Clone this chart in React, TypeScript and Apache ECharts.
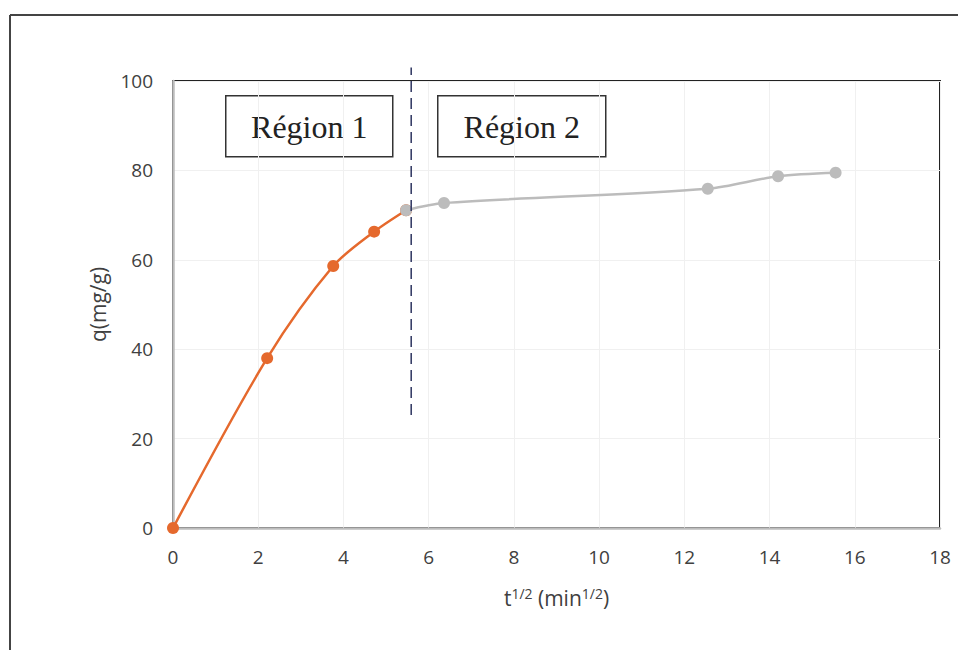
import React, { useEffect, useRef } from "react";
import * as echarts from "echarts";

const region1X = [0, 2.21, 3.76, 4.72, 5.47];
const region1Q = [0, 38.0, 58.6, 66.3, 71.1];
const region2X = [5.47, 6.36, 12.55, 14.2, 15.55];
const region2Q = [71.1, 72.7, 75.9, 78.7, 79.5];
const dividerX = [5.59, 5.59];
const dividerQ = [25.3, 103];
const regionLabels = ["Région 1", "Région 2"];
const yName = "q(mg/g)";

export default function App() {
  const ref = useRef<HTMLDivElement>(null);
  useEffect(() => {
    document.body.style.margin = "0";
    const chart = echarts.init(ref.current!, null, { renderer: "svg" });
    const tickFont = { fontFamily: "Open Sans", fontSize: 19, color: "#404040" };
    chart.setOption({
      animation: false,
      backgroundColor: "#ffffff",
      grid: {
        left: 173,
        top: 81,
        width: 767,
        height: 447,
        show: true,
        borderColor: "#222222",
        borderWidth: 2,
        backgroundColor: "transparent",
      },
      xAxis: {
        type: "value",
        min: 0,
        max: 18,
        interval: 2,
        name: "{b|t}{s|1/2}{b| (min}{s|1/2}{b|)}",
        nameLocation: "middle",
        nameGap: 56,
        nameTextStyle: {
          rich: {
            b: { fontFamily: "Open Sans", fontSize: 21, color: "#404040", lineHeight: 28 },
            s: { fontFamily: "Open Sans", fontSize: 14, color: "#404040", padding: [0, 0, 10, 0] },
          },
        },
        axisLine: { show: true, lineStyle: { color: "#BDBDBD", width: 2.5 } },
        axisTick: { show: false },
        axisLabel: { ...tickFont, margin: 19 },
        splitLine: { show: true, lineStyle: { color: "#F0F0F0", width: 1 } },
      },
      yAxis: {
        type: "value",
        min: 0,
        max: 100,
        interval: 20,
        name: yName,
        nameLocation: "middle",
        nameGap: 65,
        nameRotate: 90,
        nameTextStyle: { fontFamily: "Open Sans", fontSize: 21, color: "#404040" },
        axisLine: { show: true, lineStyle: { color: "#BDBDBD", width: 2.5 } },
        axisTick: { show: false },
        axisLabel: { ...tickFont, margin: 20 },
        splitLine: { show: true, lineStyle: { color: "#F0F0F0", width: 1 } },
      },
      series: [
        {
          type: "line",
          name: "Région 1",
          data: region1X.map((x, i) => [x, region1Q[i]]),
          smooth: 0.3,
          symbol: "circle",
          symbolSize: 12,
          lineStyle: { color: "#E5692D", width: 2.5 },
          itemStyle: { color: "#E5692D" },
          z: 3,
        },
        {
          type: "line",
          name: "Région 2",
          data: region2X.map((x, i) => [x, region2Q[i]]),
          smooth: 0.3,
          symbol: "circle",
          symbolSize: 12,
          lineStyle: { color: "#BCBCBC", width: 2.5 },
          itemStyle: { color: "#BCBCBC" },
          z: 4,
        },
        {
          type: "line",
          name: "divider",
          data: dividerX.map((x, i) => [x, dividerQ[i]]),
          symbol: "none",
          clip: false,
          lineStyle: { color: "#2E3560", width: 1.5, type: [11, 6] },
          z: 5,
        },
      ],
      graphic: [
        { type: "line", shape: { x1: 10, y1: 15, x2: 958, y2: 15 }, style: { stroke: "#444", lineWidth: 2 } },
        { type: "line", shape: { x1: 10, y1: 15, x2: 10, y2: 650 }, style: { stroke: "#444", lineWidth: 2 } },
        {
          type: "group",
          left: 225,
          top: 95,
          z: 10,
          children: [
            { type: "rect", shape: { x: 0, y: 0, width: 167, height: 61 }, style: { fill: "#fff", stroke: "#333", lineWidth: 1.5 } },
            {
              type: "text",
              x: 83.5,
              y: 31,
              style: { text: regionLabels[0], fontFamily: "Liberation Serif", fontSize: 32, fill: "#222", align: "center", verticalAlign: "middle" },
            },
          ],
        },
        {
          type: "group",
          left: 437,
          top: 95,
          z: 10,
          children: [
            { type: "rect", shape: { x: 0, y: 0, width: 168, height: 61 }, style: { fill: "#fff", stroke: "#333", lineWidth: 1.5 } },
            {
              type: "text",
              x: 84,
              y: 31,
              style: { text: regionLabels[1], fontFamily: "Liberation Serif", fontSize: 32, fill: "#222", align: "center", verticalAlign: "middle" },
            },
          ],
        },
      ],
    });
    return () => chart.dispose();
  }, []);
  return <div ref={ref} style={{ width: 958, height: 650 }} />;
}
